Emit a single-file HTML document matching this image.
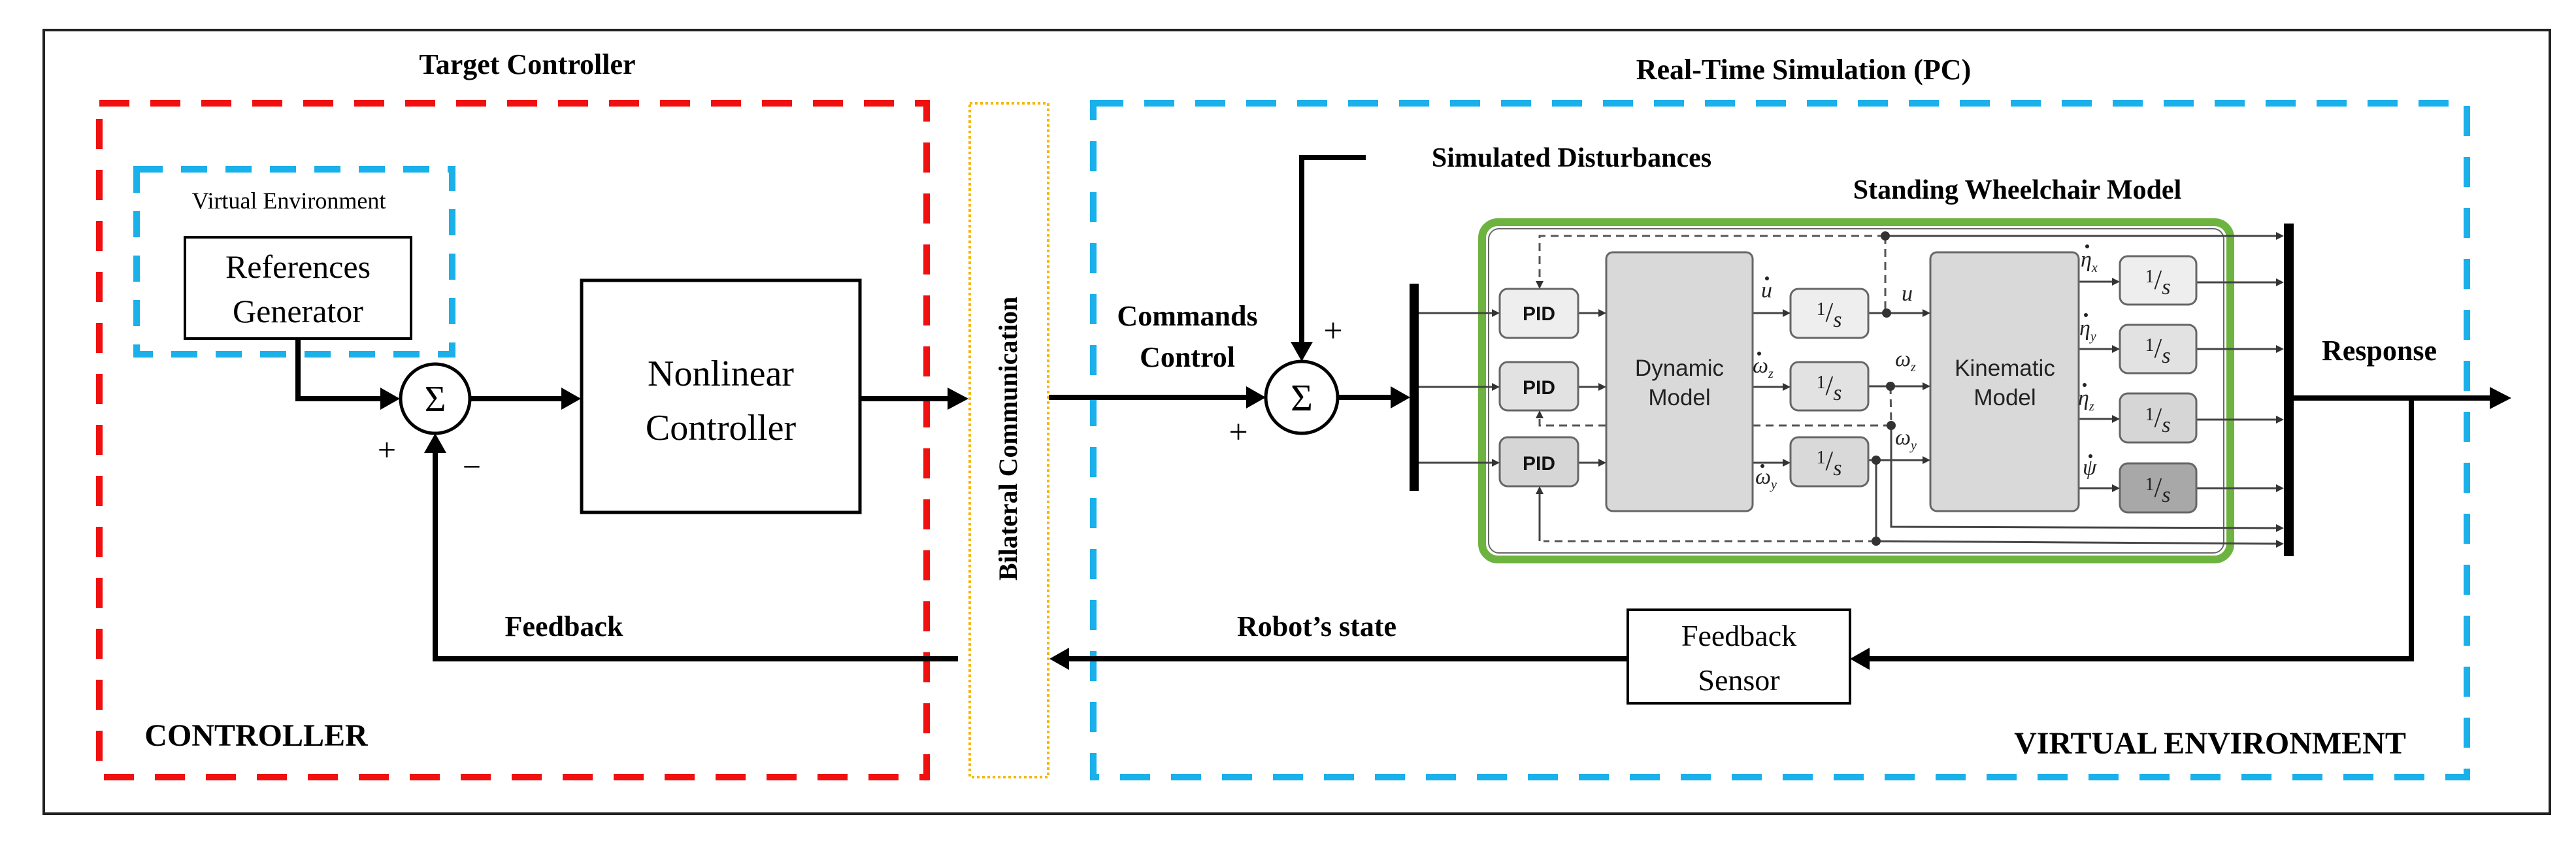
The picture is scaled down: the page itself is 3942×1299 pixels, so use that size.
<!DOCTYPE html>
<html><head><meta charset="utf-8"><style>
html,body{margin:0;padding:0;background:#fff;}
svg{display:block;}
.s{font-family:"Liberation Serif",serif;}
.a{font-family:"Liberation Sans",sans-serif;}
</style></head><body>
<svg width="3942" height="1299" viewBox="0 0 3942 1299" xmlns="http://www.w3.org/2000/svg">
<rect x="0" y="0" width="3942" height="1299" fill="#fff"/>
<rect x="67" y="46" width="3835" height="1199" fill="none" stroke="#222" stroke-width="4"/>
<rect x="152" y="158" width="1266" height="1031" fill="none" stroke="#f01010" stroke-width="10" stroke-dasharray="46,32"/>
<rect x="1484" y="158" width="120" height="1031" fill="none" stroke="#f5b800" stroke-width="4" stroke-dasharray="4,4"/>
<rect x="1673" y="158" width="2102" height="1031" fill="none" stroke="#1ab0ea" stroke-width="10" stroke-dasharray="46,32"/>
<g transform="translate(0,-7)">
<text class="s" x="807" y="120" font-size="44" font-weight="bold" text-anchor="middle">Target Controller</text>
<text class="s" x="2760" y="128" font-size="44" font-weight="bold" text-anchor="middle">Real-Time Simulation (PC)</text>
<text class="s" transform="translate(1556,678) rotate(-90)" font-size="40" font-weight="bold" text-anchor="middle">Bilateral Communication</text>
<rect x="209" y="266" width="483" height="283" fill="none" stroke="#1ab0ea" stroke-width="10" stroke-dasharray="40,28"/>
<text class="s" x="442" y="326" font-size="36" text-anchor="middle">Virtual Environment</text>
<rect x="283" y="370" width="346" height="155" fill="#fff" stroke="#000" stroke-width="4"/>
<text class="s" x="456" y="432" font-size="50" text-anchor="middle">References</text>
<text class="s" x="456" y="500" font-size="50" text-anchor="middle">Generator</text>
<g stroke="#000" stroke-width="8" fill="none">
<polyline points="456,525 456,617 588,617"/>
<line x1="720" y1="617" x2="866" y2="617"/>
<line x1="1316" y1="617" x2="1452" y2="617"/>
<polyline points="1466,1015 666,1015 666,694"/>
</g>
<g fill="#000">
<polygon points="612,617 582,600 582,634"/>
<polygon points="889,617 859,600 859,634"/>
<polygon points="1482,617 1450,600 1450,634"/>
<polygon points="666,670 649,700 683,700"/>
</g>
<circle cx="666" cy="617" r="53" fill="#fff" stroke="#000" stroke-width="5"/>
<text class="s" x="666" y="636" font-size="56" text-anchor="middle">Σ</text>
<text class="s" x="592" y="712" font-size="50" text-anchor="middle">+</text>
<text class="s" x="722" y="738" font-size="50" text-anchor="middle">−</text>
<rect x="890" y="436" width="426" height="355" fill="#fff" stroke="#000" stroke-width="5"/>
<text class="s" x="1103" y="597" font-size="56" text-anchor="middle">Nonlinear</text>
<text class="s" x="1103" y="680" font-size="56" text-anchor="middle">Controller</text>
<text class="s" x="863" y="980" font-size="44" font-weight="bold" text-anchor="middle">Feedback</text>
<text class="s" x="392" y="1148" font-size="48" font-weight="bold" text-anchor="middle">CONTROLLER</text>
<g stroke="#000" stroke-width="8" fill="none">
<line x1="1605" y1="615" x2="1912" y2="615"/>
<polyline points="2090,248 1992,248 1992,534"/>
<line x1="2047" y1="615" x2="2134" y2="615"/>
<line x1="2491" y1="1015" x2="1632" y2="1015"/>
</g>
<g fill="#000">
<polygon points="1937,615 1907,598 1907,632"/>
<polygon points="1992,560 1975,530 2009,530"/>
<polygon points="2158,615 2128,598 2128,632"/>
<polygon points="1606,1015 1636,998 1636,1032"/>
</g>
<circle cx="1992" cy="615" r="55" fill="#fff" stroke="#000" stroke-width="5"/>
<text class="s" x="1992" y="635" font-size="58" text-anchor="middle">Σ</text>
<text class="s" x="2040" y="530" font-size="52" text-anchor="middle">+</text>
<text class="s" x="1895" y="685" font-size="52" text-anchor="middle">+</text>
<text class="s" x="1817" y="505" font-size="44" font-weight="bold" text-anchor="middle">Commands</text>
<text class="s" x="1817" y="568" font-size="44" font-weight="bold" text-anchor="middle">Control</text>
<text class="s" x="2405" y="262" font-size="42" font-weight="bold" text-anchor="middle">Simulated Disturbances</text>
<text class="s" x="3087" y="311" font-size="42" font-weight="bold" text-anchor="middle">Standing Wheelchair Model</text>
<text class="s" x="3641" y="558" font-size="44" font-weight="bold" text-anchor="middle">Response</text>
<rect x="2491" y="940" width="340" height="143" fill="#fff" stroke="#000" stroke-width="4"/>
<text class="s" x="2661" y="995" font-size="46" text-anchor="middle">Feedback</text>
<text class="s" x="2661" y="1063" font-size="46" text-anchor="middle">Sensor</text>
<text class="s" x="2015" y="980" font-size="44" font-weight="bold" text-anchor="middle">Robot’s state</text>
<text class="s" x="3382" y="1160" font-size="48" font-weight="bold" text-anchor="middle">VIRTUAL ENVIRONMENT</text>
</g>
<g stroke="#000" stroke-width="8" fill="none">
<line x1="3510" y1="609" x2="3812" y2="609"/>
<polyline points="3690,609 3690,1008 2858,1008"/>
</g>
<g fill="#000">
<polygon points="3843,609 3810,592 3810,626"/>
<polygon points="2831,1008 2861,991 2861,1025"/>
<rect x="2157" y="434" width="14" height="317"/>
<rect x="3495" y="342" width="15" height="509"/>
</g>
<rect x="2268" y="340" width="1145" height="516" rx="24" fill="#fff" stroke="#6db33f" stroke-width="12"/>
<rect x="2278" y="350" width="1125" height="496" rx="16" fill="none" stroke="#666" stroke-width="2"/>
<g stroke="#444" stroke-width="3" fill="none">
<line x1="2171" y1="479" x2="2290" y2="479"/>
<line x1="2171" y1="592" x2="2290" y2="592"/>
<line x1="2171" y1="708" x2="2290" y2="708"/>
<line x1="2415" y1="479" x2="2453" y2="479"/>
<line x1="2415" y1="592" x2="2453" y2="592"/>
<line x1="2415" y1="708" x2="2453" y2="708"/>
<line x1="2682" y1="479" x2="2735" y2="479"/>
<line x1="2682" y1="592" x2="2735" y2="592"/>
<line x1="2682" y1="708" x2="2735" y2="708"/>
<line x1="2859" y1="479" x2="2950" y2="479"/>
<line x1="2859" y1="591" x2="2950" y2="591"/>
<line x1="2859" y1="704" x2="2950" y2="704"/>
<line x1="3181" y1="431" x2="3239" y2="431"/>
<line x1="3181" y1="534" x2="3239" y2="534"/>
<line x1="3181" y1="641" x2="3239" y2="641"/>
<line x1="3181" y1="747" x2="3239" y2="747"/>
<line x1="3361" y1="432" x2="3490" y2="432"/>
<line x1="3361" y1="534" x2="3490" y2="534"/>
<line x1="3361" y1="642" x2="3490" y2="642"/>
<line x1="3361" y1="747" x2="3490" y2="747"/>
<line x1="2885" y1="361" x2="3490" y2="361"/>
<polyline points="2894,649 2894,806 3490,808"/>
<polyline points="2871,704 2871,828 3490,832"/>
<line x1="2356" y1="828" x2="2356" y2="749"/>
</g>
<g stroke="#555" stroke-width="3" fill="none" stroke-dasharray="12,8">
<polyline points="2885,361 2356,361 2356,437"/>
<line x1="2885" y1="361" x2="2885" y2="478"/>
<line x1="2894" y1="651" x2="2682" y2="651"/>
<polyline points="2458,651 2356,651 2356,633"/>
<line x1="2893" y1="591" x2="2894" y2="651"/>
<line x1="2871" y1="828" x2="2362" y2="828"/>
</g>
<g fill="#333">
<circle cx="2885" cy="361" r="7"/><circle cx="2887" cy="479" r="7"/><circle cx="2893" cy="591" r="7"/>
<circle cx="2894" cy="651" r="7"/><circle cx="2871" cy="704" r="7"/><circle cx="2871" cy="828" r="7"/>
</g>
<g stroke="#666" stroke-width="3">
<rect x="2295" y="442" width="120" height="75" rx="12" fill="#eee"/>
<rect x="2295" y="554" width="120" height="74" rx="12" fill="#e2e2e2"/>
<rect x="2295" y="669" width="120" height="75" rx="12" fill="#d6d6d6"/>
<rect x="2458" y="386" width="224" height="396" rx="10" fill="#d9d9d9"/>
<rect x="2740" y="442" width="119" height="75" rx="12" fill="#eee"/>
<rect x="2740" y="554" width="119" height="74" rx="12" fill="#e2e2e2"/>
<rect x="2740" y="669" width="119" height="75" rx="12" fill="#d9d9d9"/>
<rect x="2954" y="386" width="227" height="396" rx="10" fill="#d9d9d9"/>
<rect x="3244" y="392" width="117" height="74" rx="12" fill="#eee"/>
<rect x="3244" y="497" width="117" height="74" rx="12" fill="#e2e2e2"/>
<rect x="3244" y="602" width="117" height="75" rx="12" fill="#d6d6d6"/>
<rect x="3244" y="709" width="117" height="75" rx="12" fill="#a8a8a8"/>
</g>
<g class="a" font-size="30" font-weight="bold" text-anchor="middle" fill="#111">
<text x="2355" y="490">PID</text><text x="2355" y="603">PID</text><text x="2355" y="719">PID</text>
</g>
<g class="a" font-size="35" text-anchor="middle" fill="#222">
<text x="2570" y="575">Dynamic</text><text x="2570" y="620">Model</text>
<text x="3068" y="575">Kinematic</text><text x="3068" y="620">Model</text>
</g>
<g class="s" font-size="42" text-anchor="middle" fill="#222">
<text x="2799" y="492"><tspan font-size="28" dy="-10">1</tspan><tspan dy="10">/</tspan><tspan font-size="34" font-style="italic" dy="8">s</tspan></text>
<text x="2799" y="604"><tspan font-size="28" dy="-10">1</tspan><tspan dy="10">/</tspan><tspan font-size="34" font-style="italic" dy="8">s</tspan></text>
<text x="2799" y="719"><tspan font-size="28" dy="-10">1</tspan><tspan dy="10">/</tspan><tspan font-size="34" font-style="italic" dy="8">s</tspan></text>
<text x="3302" y="442"><tspan font-size="28" dy="-10">1</tspan><tspan dy="10">/</tspan><tspan font-size="34" font-style="italic" dy="8">s</tspan></text>
<text x="3302" y="547"><tspan font-size="28" dy="-10">1</tspan><tspan dy="10">/</tspan><tspan font-size="34" font-style="italic" dy="8">s</tspan></text>
<text x="3302" y="653"><tspan font-size="28" dy="-10">1</tspan><tspan dy="10">/</tspan><tspan font-size="34" font-style="italic" dy="8">s</tspan></text>
<text x="3302" y="760"><tspan font-size="28" dy="-10">1</tspan><tspan dy="10">/</tspan><tspan font-size="34" font-style="italic" dy="8">s</tspan></text>
</g>
<g class="s" font-size="34" font-style="italic" fill="#222">
<text x="2695" y="455">u</text>
<text x="2910" y="460">u</text>
<text x="2682" y="570">ω<tspan font-size="20" dy="8">z</tspan></text>
<text x="2900" y="560">ω<tspan font-size="20" dy="8">z</tspan></text>
<text x="2686" y="740">ω<tspan font-size="20" dy="8">y</tspan></text>
<text x="2900" y="680">ω<tspan font-size="20" dy="8">y</tspan></text>
<text x="3184" y="408">η<tspan font-size="20" dy="8">x</tspan></text>
<text x="3182" y="513">η<tspan font-size="20" dy="8">y</tspan></text>
<text x="3180" y="620">η<tspan font-size="20" dy="8">z</tspan></text>
<text x="3187" y="726">ψ</text>
</g>
<g fill="#222">
<circle cx="2704" cy="426" r="3"/>
<circle cx="2692" cy="541" r="3"/>
<circle cx="2697" cy="713" r="3"/>
<circle cx="3194" cy="377" r="3"/>
<circle cx="3192" cy="482" r="3"/>
<circle cx="3190" cy="589" r="3"/>
<circle cx="3199" cy="698" r="3"/>
</g>
<g fill="#333">
<polygon points="2295,479 2283,473 2283,485"/><polygon points="2295,592 2283,586 2283,598"/><polygon points="2295,708 2283,702 2283,714"/>
<polygon points="2458,479 2446,473 2446,485"/><polygon points="2458,592 2446,586 2446,598"/><polygon points="2458,708 2446,702 2446,714"/>
<polygon points="2740,479 2728,473 2728,485"/><polygon points="2740,592 2728,586 2728,598"/><polygon points="2740,708 2728,702 2728,714"/>
<polygon points="2954,479 2942,473 2942,485"/><polygon points="2954,591 2942,585 2942,597"/><polygon points="2954,704 2942,698 2942,710"/>
<polygon points="3244,431 3232,425 3232,437"/><polygon points="3244,534 3232,528 3232,540"/><polygon points="3244,641 3232,635 3232,647"/><polygon points="3244,747 3232,741 3232,753"/>
<polygon points="3495,361 3483,355 3483,367"/><polygon points="3495,432 3483,426 3483,438"/><polygon points="3495,534 3483,528 3483,540"/><polygon points="3495,642 3483,636 3483,648"/><polygon points="3495,747 3483,741 3483,753"/><polygon points="3495,808 3483,802 3483,814"/><polygon points="3495,832 3483,826 3483,838"/>
<polygon points="2356,442 2350,430 2362,430"/><polygon points="2356,628 2350,640 2362,640"/><polygon points="2356,744 2350,756 2362,756"/>
</g>
</svg>
</body></html>
